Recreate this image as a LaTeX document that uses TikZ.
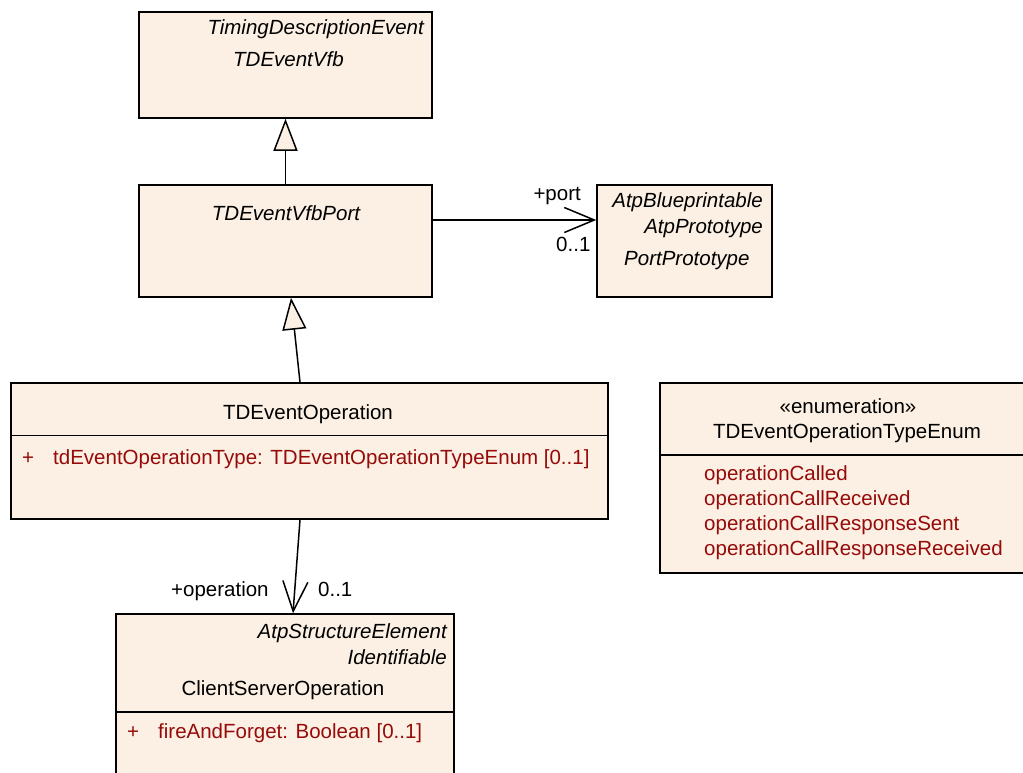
\documentclass[tikz,border=0pt]{standalone}
\usepackage{fontspec}
\setmainfont{Liberation Sans}
\usetikzlibrary{arrows.meta}
\definecolor{classfill}{RGB}{251,240,227}
\definecolor{attrred}{RGB}{150,10,10}
\begin{document}
\begin{tikzpicture}[
    x=1pt, y=-1pt,
    font=\fontsize{20.5}{24}\selectfont,
    every node/.style={inner sep=0pt},
    classbox/.style={draw, line width=1.5pt, fill=classfill},
    stereo/.style={font=\fontsize{20.5}{24}\selectfont\itshape},
    member/.style={text=attrred},
    inherit/.style={line width=1.5pt, -{Triangle[length=32pt, width=24pt, fill=classfill, line width=1.5pt]}},
    assoc/.style={line width=1.5pt, -{Straight Barb[length=30pt, width=25pt, line width=1.5pt]}},
  ]
  \useasboundingbox (0,0) rectangle (1023,772);
  % class boxes
  \node[classbox, minimum width=293pt, minimum height=106pt] (vfb) at (285.5,65) {};
  \node[classbox, minimum width=293pt, minimum height=112pt] (vfbport) at (285.5,241) {};
  \node[classbox, minimum width=175pt, minimum height=112pt] (port) at (684.5,241) {};
  \node[classbox, minimum width=597pt, minimum height=136pt] (op) at (309.5,451) {};
  \node[classbox, minimum width=370pt, minimum height=190pt] (enum) at (845,478) {};
  \node[classbox, minimum width=338pt, minimum height=176pt] (css) at (285,702) {};
  % compartments
  \draw[line width=1.8pt] (op.west |- 0,435.5) -- (op.east |- 0,435.5);
  \draw[line width=1.8pt] (enum.west |- 0,455) -- (enum.east |- 0,455);
  \draw[line width=1.8pt] (css.west |- 0,712) -- (css.east |- 0,712);
  % texts
  \node[stereo, anchor=base east] (vfbsuper) at (424,34) {TimingDescriptionEvent};
  \node[stereo, anchor=base west] (vfbname) at (233,66) {TDEventVfb};
  \node[stereo, anchor=base] (vfbportname) at (286,220) {TDEventVfbPort};
  \node[stereo, anchor=base east] (portsuper1) at (763,207) {AtpBlueprintable};
  \node[stereo, anchor=base east] (portsuper2) at (763,233) {AtpPrototype};
  \node[stereo, anchor=base west] (portname) at (624,265) {PortPrototype};
  \node[anchor=base] (opname) at (308,419) {TDEventOperation};
  \node[member, anchor=base west] (opvis) at (22,464) {+};
  \node[member, anchor=base west] (opattr) at (53,464) {tdEventOperationType: TDEventOperationTypeEnum [0..1]};
  \node[anchor=base] (enumstereo) at (848,413) {«enumeration»};
  \node[anchor=base] (enumname) at (847,438) {TDEventOperationTypeEnum};
  \foreach \lit [count=\i from 0] in {operationCalled,operationCallReceived,operationCallResponseSent,operationCallResponseReceived} {
    \node[member, anchor=base west] (lit\i) at (704,480+25*\i) {\lit};
  }
  \node[stereo, anchor=base east] (csssuper1) at (447,638) {AtpStructureElement};
  \node[stereo, anchor=base east] (csssuper2) at (447,664) {Identifiable};
  \node[anchor=base] (cssname) at (283,695) {ClientServerOperation};
  \node[member, anchor=base west] (cssvis) at (127,738) {+};
  \node[member, anchor=base west] (cssattr) at (158,738) {fireAndForget: Boolean [0..1]};
  % connectors
  \draw[inherit] (vfbport.north) -- (vfb.south);
  \draw[inherit] ([xshift=-9.5pt]op.north) -- ([xshift=5.5pt]vfbport.south);
  \draw[assoc] ([yshift=21pt]vfbport.east) -- ([yshift=21pt]vfbport.east -| port.west);
  \draw[assoc] ([xshift=-9.5pt]op.south) -- ([xshift=8pt]css.north);
  \node[anchor=base east] (portrole) at (581,200) {+port};
  \node[anchor=base west] (portmult) at (556,251) {0..1};
  \node[anchor=base west] (oprole) at (171,596) {+operation};
  \node[anchor=base west] (opmult) at (318,596) {0..1};
\end{tikzpicture}
\end{document}
